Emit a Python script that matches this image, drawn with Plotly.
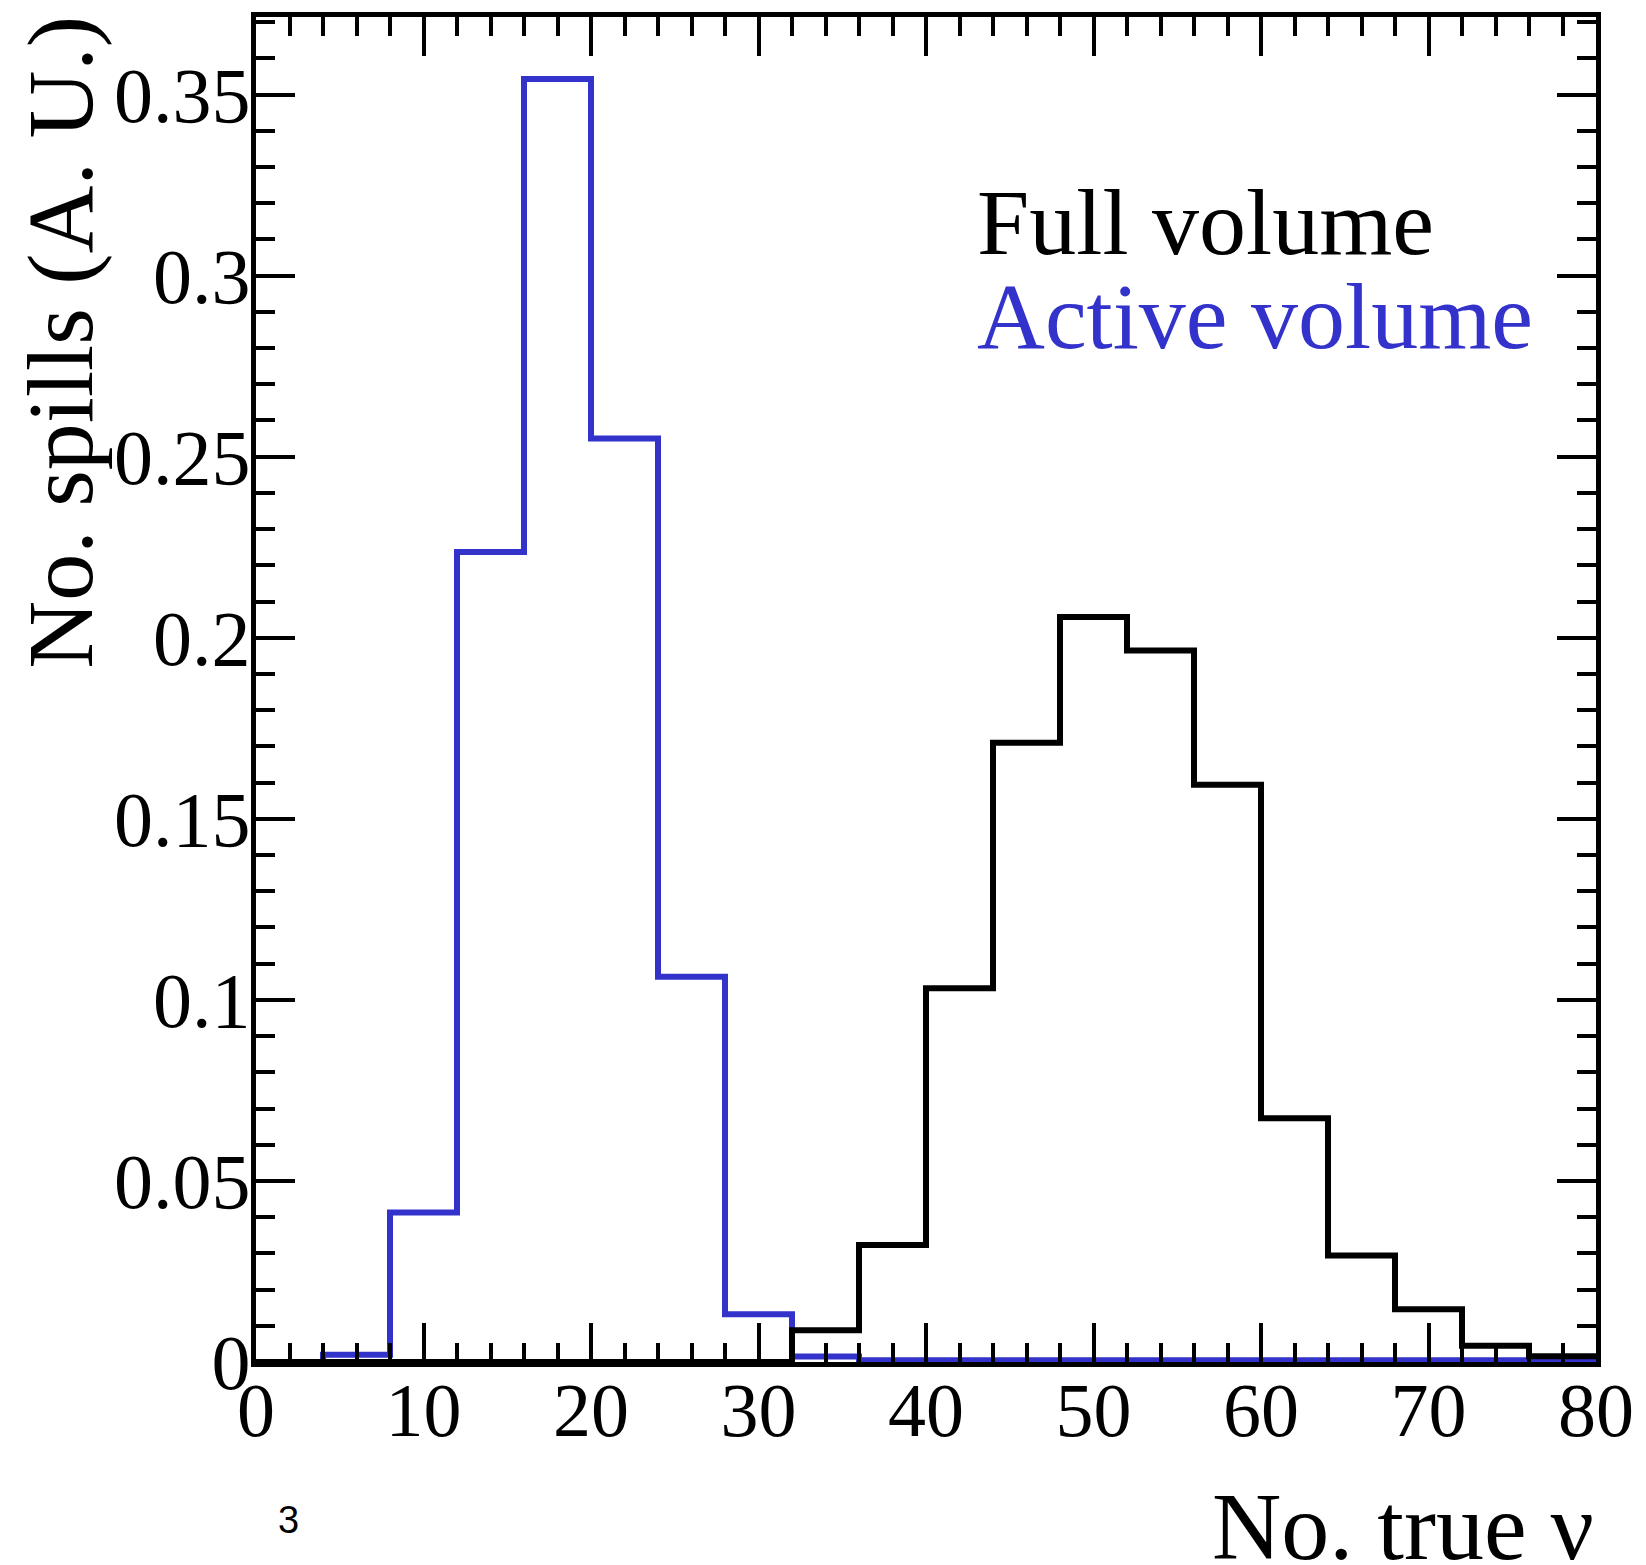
import plotly.graph_objects as go

# ---- data ----
bin_edges = [0, 4, 8, 12, 16, 20, 24, 28, 32, 36, 40, 44, 48, 52, 56, 60, 64, 68, 72, 76, 80]
full_volume = [0, 0, 0, 0, 0, 0, 0, 0, 0.0088, 0.0323, 0.1032, 0.171, 0.2057, 0.1965,
               0.1594, 0.0673, 0.0294, 0.0146, 0.0045, 0.0016]
active_volume = [0, 0.002, 0.0413, 0.2237, 0.3543, 0.255, 0.1064, 0.0132, 0.0015, 0.0005,
                 0.0005, 0.0005, 0.0005, 0.0005, 0.0005, 0.0005, 0.0005, 0.0005, 0.0005, 0.0005]
x_tick_vals = [0, 10, 20, 30, 40, 50, 60, 70, 80]
x_tick_text = ["0", "10", "20", "30", "40", "50", "60", "70", "80"]
y_tick_vals = [0, 0.05, 0.1, 0.15, 0.2, 0.25, 0.3, 0.35]
y_tick_text = ["0", "0.05", "0.1", "0.15", "0.2", "0.25", "0.3", "0.35"]

BLUE = "#3333cc"
SERIF = "Liberation Serif, Times New Roman, serif"

W, H = 1646, 1565
L, R, T, B = 256, 49, 15, 203
PW, PH = W - L - R, H - T - B


def step(vals):
    return bin_edges, list(vals) + [vals[-1]]


fig = go.Figure()
xa, ya = step(active_volume)
fig.add_trace(go.Scatter(x=xa, y=ya, mode="lines", line=dict(shape="hv", color=BLUE, width=6),
                         showlegend=False, hoverinfo="skip"))
xf, yf = step(full_volume)
fig.add_trace(go.Scatter(x=xf, y=yf, mode="lines", line=dict(shape="hv", color="black", width=6),
                         showlegend=False, hoverinfo="skip"))

axis_common = dict(showline=True, linecolor="black", linewidth=5, mirror="allticks",
                   ticks="inside", tickcolor="black", tickwidth=4, ticklen=39,
                   showgrid=False, zeroline=False)

fig.update_xaxes(range=[0, 80], tickmode="array", tickvals=x_tick_vals, ticktext=x_tick_text,
                 tickfont=dict(family=SERIF, size=76, color="black"), ticklabelstandoff=-22,
                 minor=dict(dtick=2, ticks="inside", ticklen=19, tickwidth=4, tickcolor="black", showgrid=False),
                 **axis_common)
fig.update_yaxes(range=[0, 0.3714], tickmode="array", tickvals=y_tick_vals, ticktext=y_tick_text,
                 tickfont=dict(family=SERIF, size=78, color="black"), ticklabelstandoff=-15,
                 minor=dict(dtick=0.01, tick0=0, ticks="inside", ticklen=19, tickwidth=4, tickcolor="black", showgrid=False),
                 **axis_common)


def px_x(x):
    return (x - L) / PW


def px_y(y):
    return (H - B - y) / PH


annotations = [
    dict(text="Full volume", x=px_x(976), y=px_y(220), xanchor="left", yanchor="middle",
         font=dict(family=SERIF, size=94, color="black")),
    dict(text="Active volume", x=px_x(976), y=px_y(314), xanchor="left", yanchor="middle",
         font=dict(family=SERIF, size=94, color=BLUE)),
    dict(text="No. true ν", x=px_x(1597), y=px_y(1527), xanchor="right", yanchor="middle",
         font=dict(family=SERIF, size=96, color="black")),
    dict(text="No. spills (A. U.)", x=px_x(59), y=px_y(341), xanchor="center", yanchor="middle",
         textangle=-90, font=dict(family=SERIF, size=94, color="black")),
    dict(text="3", x=px_x(289), y=px_y(1520), xanchor="center", yanchor="middle",
         font=dict(family="Liberation Sans, Arial, sans-serif", size=38, color="black")),
]
for a in annotations:
    a.update(xref="paper", yref="paper", showarrow=False)

fig.update_layout(width=W, height=H, margin=dict(l=L, r=R, t=T, b=B, pad=0),
                  paper_bgcolor="white", plot_bgcolor="white", annotations=annotations)

fig.write_html("out.html", config={"displayModeBar": False},
               post_script="document.body.style.margin='0';document.body.style.overflow='hidden';")
